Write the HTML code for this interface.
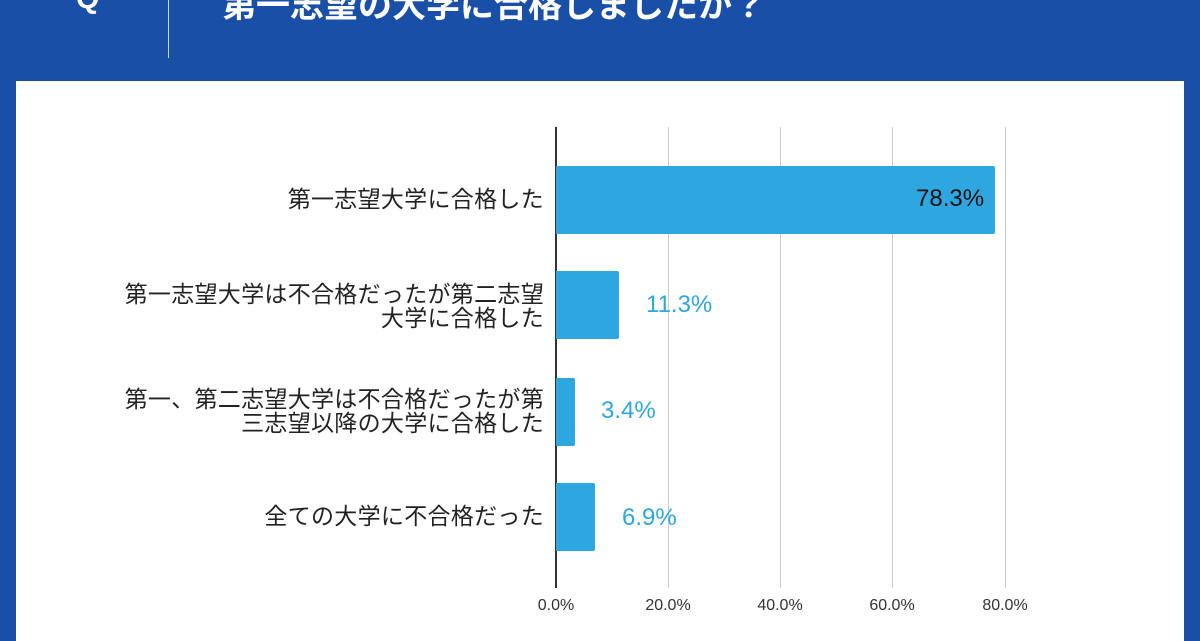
<!DOCTYPE html>
<html><head><meta charset="utf-8"><style>
body{margin:0;width:1200px;height:630px;background:#1a4fa8;position:relative;overflow:hidden;font-family:"Liberation Sans","Noto Sans CJK JP",sans-serif}
.t{position:absolute;color:#fff;white-space:nowrap}
.panel{position:absolute;left:16px;top:81px;width:1168px;height:560px;background:#fff}
.g{position:absolute;top:127px;height:461px;width:1px;background:#ccc}
.bar{position:absolute;left:556px;height:68px;background:#2ea6df;border-radius:0 2px 2px 0}
.lab{position:absolute;right:656px;text-align:right;font-size:23px;color:#222;line-height:24px;white-space:nowrap;letter-spacing:0.3px}
.v{position:absolute;font-size:24px;color:#2ea6df}
.x{position:absolute;top:597px;font-size:16px;color:#333;width:80px;text-align:center}
</style></head><body>
<div class="t" style="left:76px;top:-18px;font-size:30px;font-weight:bold">Q</div>
<div style="position:absolute;left:168px;top:0;width:1px;height:58px;background:#c8d4ea"></div>
<div class="t" style="left:222px;top:-22px;font-size:34px;font-weight:bold">第一志望の大学に合格しましたか？</div>
<div class="panel"></div>
<div class="g" style="left:668px"></div><div class="g" style="left:780px"></div><div class="g" style="left:892px"></div><div class="g" style="left:1005px"></div>
<div class="g" style="left:555px;background:#333;width:1.5px"></div>
<div class="bar" style="top:166px;width:439px"></div>
<div class="bar" style="top:271px;width:63px"></div>
<div class="bar" style="top:378px;width:19px"></div>
<div class="bar" style="top:483px;width:39px"></div>
<div class="v" style="left:916px;top:185px;color:#111">78.3%</div>
<div class="v" style="left:646px;top:291px">11.3%</div>
<div class="v" style="left:601px;top:397px">3.4%</div>
<div class="v" style="left:622px;top:504px">6.9%</div>
<div class="lab" style="top:187px">第一志望大学に合格した</div>
<div class="lab" style="top:282px">第一志望大学は不合格だったが第二志望<br>大学に合格した</div>
<div class="lab" style="top:387px">第一、第二志望大学は不合格だったが第<br>三志望以降の大学に合格した</div>
<div class="lab" style="top:504px">全ての大学に不合格だった</div>
<div class="x" style="left:516px">0.0%</div><div class="x" style="left:628px">20.0%</div><div class="x" style="left:740px">40.0%</div><div class="x" style="left:852px">60.0%</div><div class="x" style="left:965px">80.0%</div>
</body></html>
